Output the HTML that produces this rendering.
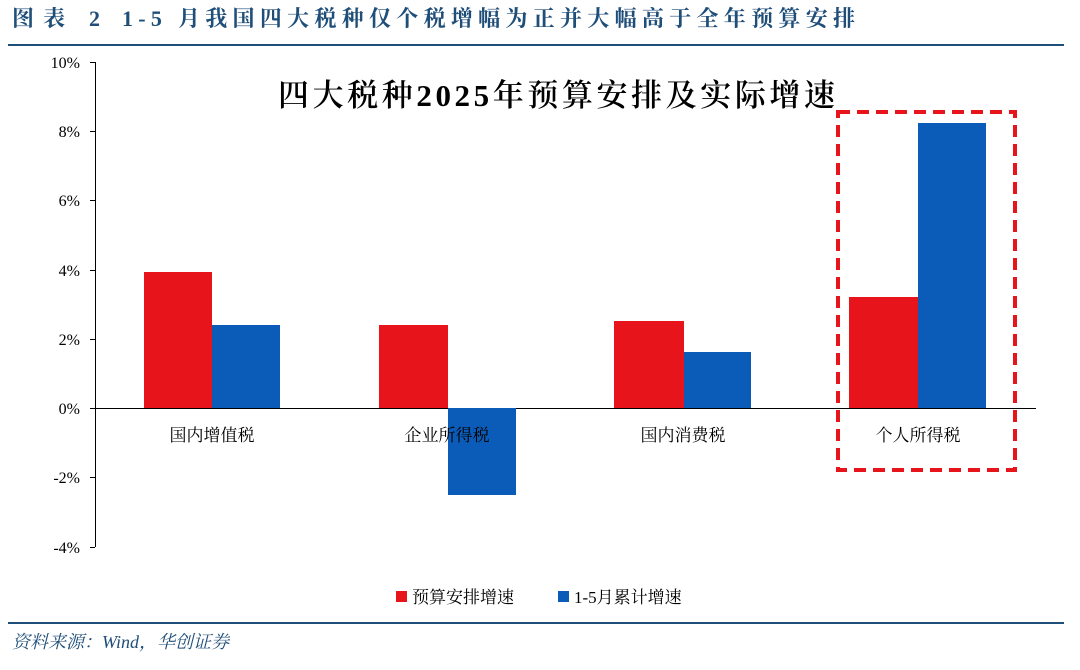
<!DOCTYPE html>
<html><head><meta charset="utf-8"><style>
body{margin:0;background:#fff;width:1080px;height:665px;overflow:hidden;font-family:"Liberation Serif","Noto Serif CJK SC",serif}
</style></head><body>
<svg width="1080" height="665" xmlns="http://www.w3.org/2000/svg" font-family="'Liberation Serif','Noto Serif CJK SC',serif">
<text x="12" y="26" font-size="22" font-weight="bold" fill="#1f4e79" textLength="88" lengthAdjust="spacing">图表 2</text>
<text x="122" y="26" font-size="22" font-weight="bold" fill="#1f4e79" textLength="733" lengthAdjust="spacing">1-5 月我国四大税种仅个税增幅为正并大幅高于全年预算安排</text>
<rect x="8" y="44" width="1056" height="2" fill="#1f4e79"/>
<rect x="8" y="622" width="1056" height="2" fill="#1f4e79"/>
<text x="12" y="648" font-size="18" font-style="italic" fill="#1f4e79">资料来源：Wind，华创证券</text>
<text x="278" y="106" font-size="31" font-weight="600" fill="#000" textLength="557" lengthAdjust="spacing">四大税种2025年预算安排及实际增速</text>
<g stroke="#000" stroke-width="1">
<line x1="95.5" y1="62" x2="95.5" y2="547"/>
<line x1="95" y1="408.5" x2="1036" y2="408.5"/>
<line x1="90" y1="62.5" x2="95" y2="62.5"/><line x1="90" y1="131.5" x2="95" y2="131.5"/>
<line x1="90" y1="200.5" x2="95" y2="200.5"/><line x1="90" y1="270.5" x2="95" y2="270.5"/>
<line x1="90" y1="339.5" x2="95" y2="339.5"/><line x1="90" y1="408.5" x2="95" y2="408.5"/>
<line x1="90" y1="477.5" x2="95" y2="477.5"/><line x1="90" y1="547.5" x2="95" y2="547.5"/>
</g>
<g font-size="16" text-anchor="end" fill="#000">
<text x="80" y="68">10%</text><text x="80" y="137">8%</text><text x="80" y="206">6%</text>
<text x="80" y="276">4%</text><text x="80" y="345">2%</text><text x="80" y="414">0%</text>
<text x="80" y="483">-2%</text><text x="80" y="553">-4%</text>
</g>
<g fill="#e8141c">
<rect x="144" y="272" width="68" height="136"/>
<rect x="379" y="325" width="69" height="83"/>
<rect x="614" y="321" width="70" height="87"/>
<rect x="849" y="297" width="69" height="111"/>
</g>
<g fill="#0b5cb8">
<rect x="212" y="325" width="68" height="83"/>
<rect x="448" y="408" width="68" height="87"/>
<rect x="684" y="352" width="67" height="56"/>
<rect x="918" y="123" width="68" height="285"/>
</g>
<g font-size="17" text-anchor="middle" fill="#000">
<text x="212" y="441">国内增值税</text><text x="447" y="441">企业所得税</text>
<text x="683" y="441">国内消费税</text><text x="918" y="441">个人所得税</text>
</g>
<rect x="838" y="112" width="177" height="358" fill="none" stroke="#e8141c" stroke-width="4" stroke-dasharray="12,7"/>
<rect x="396" y="591" width="11" height="11" fill="#e8141c"/>
<text x="412" y="603" font-size="17">预算安排增速</text>
<rect x="558" y="591" width="11" height="11" fill="#0b5cb8"/>
<text x="574" y="603" font-size="17">1-5月累计增速</text>
</svg>
</body></html>
